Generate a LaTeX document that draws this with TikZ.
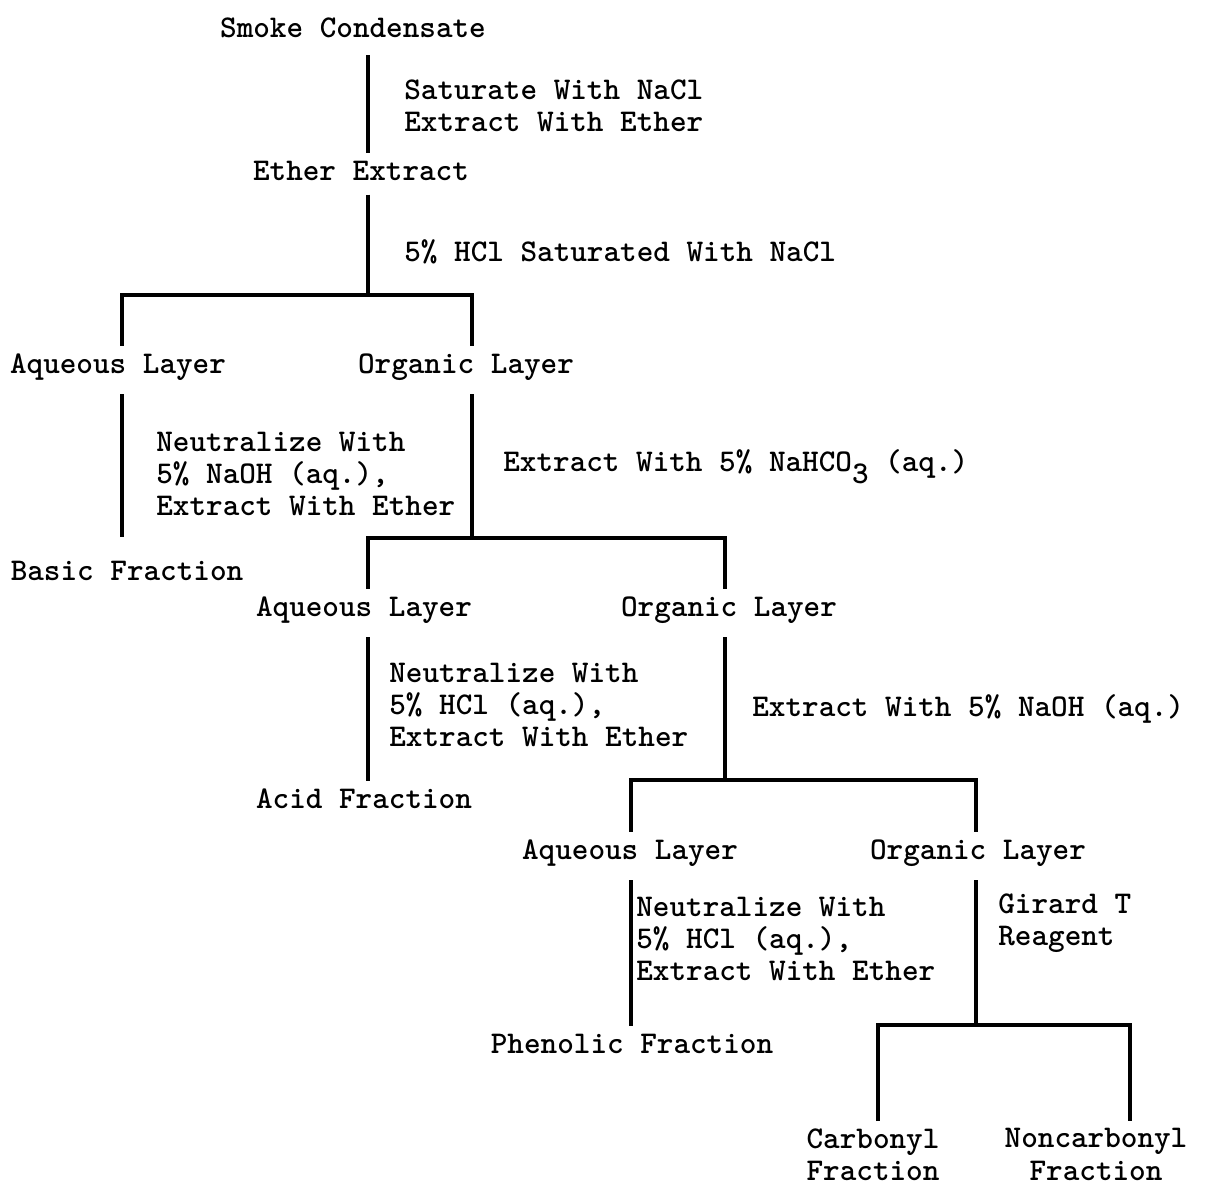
\documentclass[tikz,border=0pt]{standalone}
\usepackage{tikz}
\usetikzlibrary{positioning}

\tikzset{
  lbl/.style={anchor=base, inner sep=4pt},
  note/.style={anchor=west, align=left, inner sep=0pt},
  link/.style={line width=1.8pt},
}

\begin{document}
\begin{tikzpicture}[x=0.02cm, y=-0.02cm,
    font={\fontsize{18}{18.4}\selectfont\ttfamily\bfseries}]
        \useasboundingbox (0,0) rectangle (1206,1190);
        % main nodes
        \node[lbl] (smoke) at (353,37) {Smoke Condensate};
        \node[lbl] (ether) at (361,180) {Ether Extract};
        \node[lbl] (aq1) at (118,373) {Aqueous Layer};
        \node[lbl] (org1) at (466,373) {Organic Layer};
        \node[lbl] (basic) at (127,580) {Basic Fraction};
        \node[lbl] (aq2) at (364,616) {Aqueous Layer};
        \node[lbl] (org2) at (729,616) {Organic Layer};
        \node[lbl] (acid) at (364,808) {Acid Fraction};
        \node[lbl] (aq3) at (630,859) {Aqueous Layer};
        \node[lbl] (org3) at (978,859) {Organic Layer};
        \node[lbl] (phen) at (632,1053) {Phenolic Fraction};
        \node[lbl, anchor=north, align=center] (carb) at (873,1121) {Carbonyl\\Fraction};
        \node[lbl, anchor=north, align=center] (noncarb) at (1096,1121) {Noncarbonyl\\Fraction};
        % reagents
        \node[note] (n1) at (404,106) {Saturate With NaCl\\Extract With Ether};
        \node[note, anchor=base west] (n2) at (404,261) {5\% HCl Saturated With NaCl};
        \node[note] (n3) at (156,474) {Neutralize With\\5\% NaOH (aq.),\\Extract With Ether};
        \node[note, anchor=base west] (n4) at (503,471) {Extract With 5\% NaHCO\raisebox{-7pt}{3} (aq.)};
        \node[note] (n5) at (389,705) {Neutralize With\\5\% HCl (aq.),\\Extract With Ether};
        \node[note, anchor=base west] (n6) at (752,716) {Extract With 5\% NaOH (aq.)};
        \node[note] (n7) at (636,939) {Neutralize With\\5\% HCl (aq.),\\Extract With Ether};
        \node[note] (n8) at (998,923) {Girard T\\Reagent};
        % junctions and columns
        \coordinate (j1) at (368,295);
        \coordinate (j2) at (472,538);
        \coordinate (j3) at (725,780);
        \coordinate (j4) at (976,1025);
        \coordinate (colB) at (122,0);
        \coordinate (colE) at (631,0);
        \coordinate (colG) at (878,0);
        \coordinate (colH) at (1130,0);
        % connectors
        \draw[link, shorten <=6pt] (smoke.south -| j1) -- (ether.north -| j1);
        \draw[link, shorten <=4pt] (ether.south -| j1) -- (j1);
        \draw[link] (aq1.north -| colB) |- (j1) -| (org1.north -| j2);
        \draw[link, shorten <=4pt, shorten >=9pt] (aq1.south -| colB) -- (basic.north -| colB);
        \draw[link, shorten <=4pt] (org1.south -| j2) -- (j2);
        \draw[link] (aq2.north -| j1) |- (j2) -| (org2.north -| j3);
        \draw[link, shorten <=4pt] (aq2.south -| j1) -- (acid.north -| j1);
        \draw[link, shorten <=4pt] (org2.south -| j3) -- (j3);
        \draw[link] (aq3.north -| colE) |- (j3) -| (org3.north -| j4);
        \draw[link, shorten <=4pt] (aq3.south -| colE) -- (phen.north -| colE);
        \draw[link, shorten <=4pt] (org3.south -| j4) -- (j4);
        \draw[link] (carb.north -| colG) |- (j4) -| (noncarb.north -| colH);
    \end{tikzpicture}
\end{document}
